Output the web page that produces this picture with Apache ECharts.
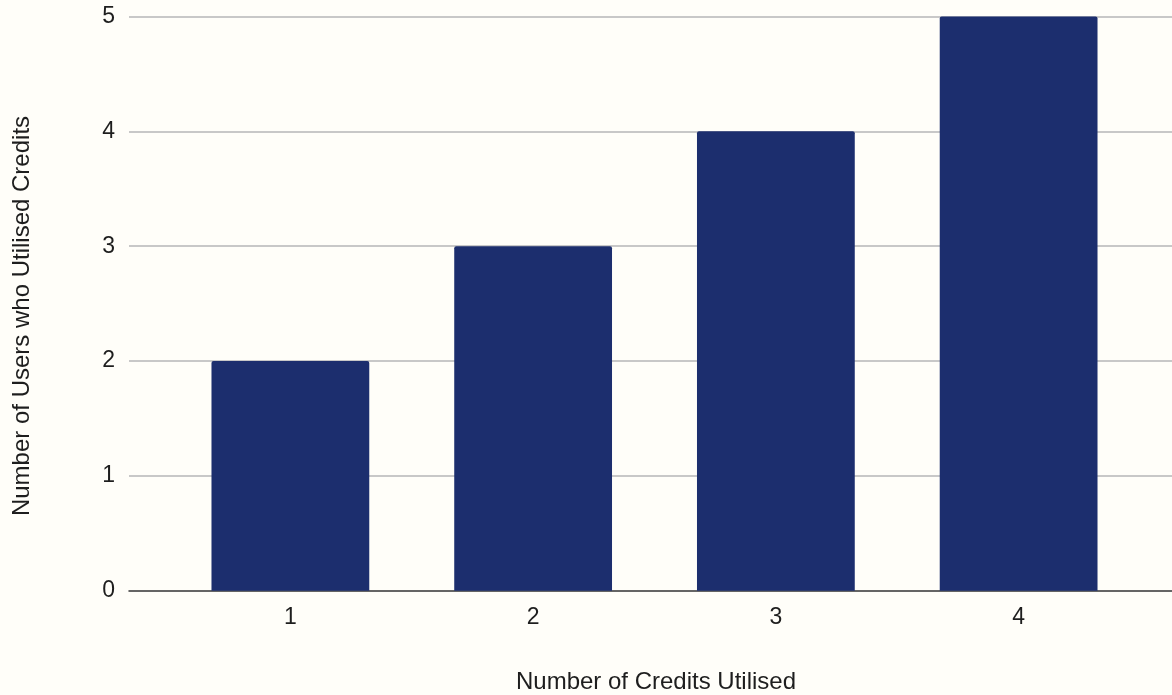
<!DOCTYPE html>
<html>
<head>
<meta charset="utf-8">
<script src="https://cdn.jsdelivr.net/npm/echarts@6/dist/echarts.min.js"></script>
<style>
  html, body { margin: 0; padding: 0; background: #fffef9; }
  #chart { width: 1172px; height: 695px; }
</style>
</head>
<body>
<div id="chart"></div>
<script>
// Credits utilised vs. number of users
const categories = ['1', '2', '3', '4'];
const userCounts = [2, 3, 4, 5];
const yTicks = [0, 1, 2, 3, 4, 5];
const xTitle = 'Number of Credits Utilised';
const yTitle = 'Number of Users who Utilised Credits';

const FONT = '"Liberation Sans", Arial, sans-serif';
const TEXT = '#1e1e1e';
const TOP = 16.5, BOTTOM = 104.3;

const chart = echarts.init(document.getElementById('chart'));
chart.setOption({
  backgroundColor: '#fffef9',
  animation: false,
  textStyle: { fontFamily: FONT },
  grid: [
    // frame: gridlines, value axis and baseline
    { left: 129, right: 0, top: TOP, bottom: BOTTOM, containLabel: false, outerBoundsMode: 'none' },
    // bars
    { left: 169, right: 32, top: TOP, bottom: BOTTOM, containLabel: false, outerBoundsMode: 'none' }
  ],
  xAxis: [
    {
      gridIndex: 0, type: 'category', data: [''],
      axisLine: { show: true, lineStyle: { color: '#444', width: 1.6 } },
      axisTick: { show: false }, axisLabel: { show: false }
    },
    {
      gridIndex: 1, type: 'category', data: categories,
      axisLine: { show: false }, axisTick: { show: false },
      axisLabel: { fontSize: 23, color: TEXT, margin: 15, fontFamily: FONT }
    }
  ],
  yAxis: [
    {
      gridIndex: 0, type: 'value', min: yTicks[0], max: yTicks[yTicks.length - 1], interval: 1,
      axisLine: { show: false }, axisTick: { show: false },
      axisLabel: { fontSize: 23, color: TEXT, margin: 14, fontFamily: FONT },
      splitLine: { lineStyle: { color: '#c8c8c8', width: 2 } }
    },
    {
      gridIndex: 1, type: 'value', min: yTicks[0], max: yTicks[yTicks.length - 1], interval: 1,
      show: false, splitLine: { show: false }
    }
  ],
  graphic: [
    {
      type: 'text', x: 656, y: 682,
      style: { text: xTitle, fontSize: 24, fill: TEXT, fontFamily: FONT, align: 'center', verticalAlign: 'middle' }
    },
    {
      type: 'text', x: 22.5, y: 316, rotation: Math.PI / 2,
      style: { text: yTitle, fontSize: 24, fill: TEXT, fontFamily: FONT, align: 'center', verticalAlign: 'middle' }
    }
  ],
  series: [{
    type: 'bar',
    xAxisIndex: 1, yAxisIndex: 1,
    data: userCounts,
    barWidth: '65%',
    itemStyle: { color: '#1c2e6e', borderRadius: [2, 2, 0, 0] }
  }]
});
</script>
</body>
</html>
